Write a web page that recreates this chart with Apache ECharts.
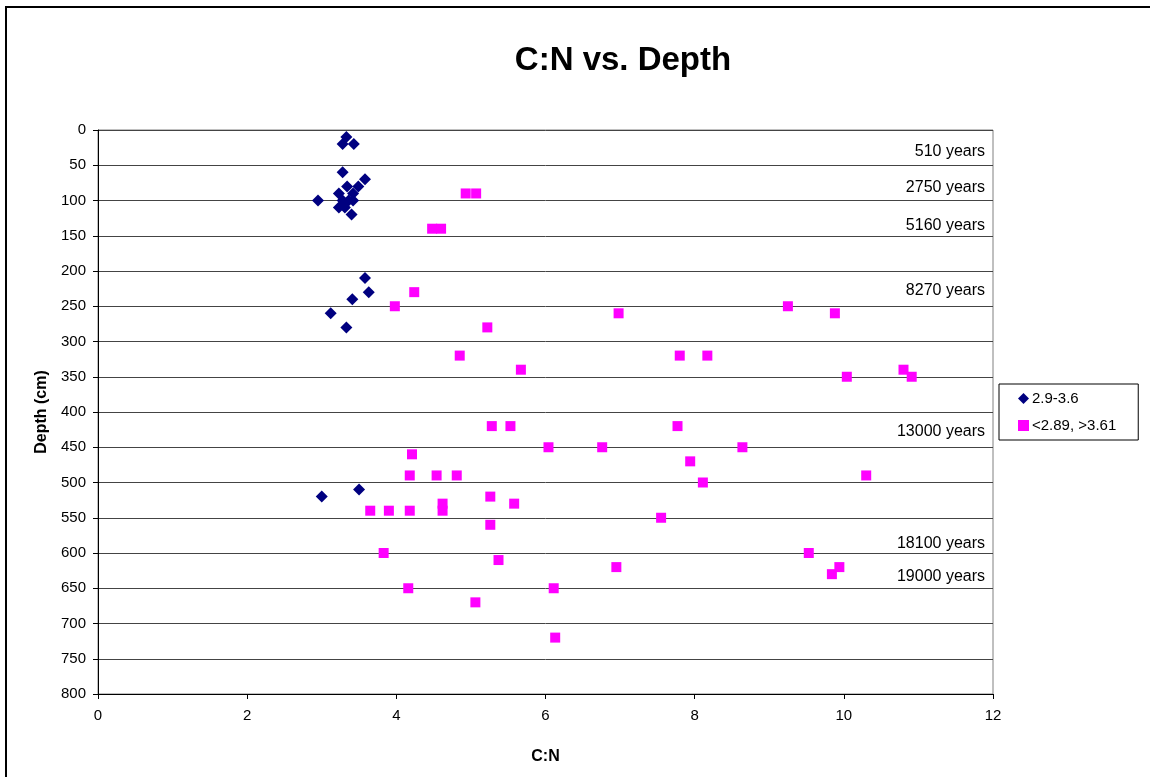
<!DOCTYPE html>
<html>
<head>
<meta charset="utf-8">
<title>C:N vs. Depth</title>
<script src="https://cdn.jsdelivr.net/npm/echarts@6/dist/echarts.min.js"></script>
<style>
  html, body { margin: 0; padding: 0; background: #fff; }
  #chart { width: 1150px; height: 777px; }
</style>
</head>
<body>
<div id="chart"></div>
<script>
// C:N ratio (x) and depth in cm (y)
const lowName = "2.9-3.6";
const lowCN = [3.33, 3.28, 3.43, 3.28, 3.58, 3.34, 3.49, 3.23, 3.42, 2.95, 3.28, 3.36, 3.42, 3.23, 3.31, 3.40, 3.58, 3.63, 3.41, 3.12, 3.33, 3.50, 3.00];
const lowDepth = [10, 20, 20, 60, 70, 80, 80, 90, 90, 100, 100, 100, 100, 110, 110, 120, 210, 230, 240, 260, 280, 510, 520];

const highName = "<2.89, >3.61";
const highCN = [4.93, 5.07, 4.48, 4.60, 4.24, 3.98, 9.25, 6.98, 9.88, 5.22, 4.85, 7.80, 8.17, 5.67, 10.80, 10.04, 10.91,
  5.28, 5.53, 7.77, 6.04, 6.76, 8.64, 4.21, 7.94, 4.18, 4.54, 4.81, 10.30, 8.11, 5.26, 4.62, 5.58,
  3.65, 3.90, 4.18, 4.62, 7.55, 5.26, 3.83, 9.53, 5.37, 6.95, 9.94, 9.84, 4.16, 6.11, 5.06, 6.13];
const highDepth = [90, 90, 140, 140, 230, 250, 250, 260, 260, 280, 320, 320, 320, 340, 340, 350, 350,
  420, 420, 420, 450, 450, 450, 460, 470, 490, 490, 490, 490, 500, 520, 530, 530,
  540, 540, 540, 540, 550, 560, 600, 600, 610, 620, 620, 630, 650, 650, 670, 720];

// age notes written along the right edge
const ageLabels = ["510 years", "2750 years", "5160 years", "8270 years", "13000 years", "18100 years", "19000 years"];
const ageDepth = [31, 81, 136, 228, 428, 587, 634];

const xTicks = [0, 2, 4, 6, 8, 10, 12];
const yTicks = [0, 50, 100, 150, 200, 250, 300, 350, 400, 450, 500, 550, 600, 650, 700, 750, 800];

const font = "Arial, 'Liberation Sans', sans-serif";

const pairs = (xs, ys) => xs.map((v, i) => [v, ys[i]]);

const chart = echarts.init(document.getElementById("chart"), null, { renderer: "canvas" });

const option = {
  animation: false,
  backgroundColor: "#fff",
  textStyle: { fontFamily: font, color: "#000" },
  title: {
    text: "C:N vs. Depth",
    left: 618,
    top: 39,
    textAlign: "center",
    textStyle: { fontFamily: font, fontSize: 33, fontWeight: "bold", color: "#000" }
  },
  legend: {
    data: [lowName, highName],
    orient: "vertical",
    left: 999,
    top: 384,
    padding: [7, 22, 7, 19],
    itemGap: 12,
    itemWidth: 11,
    itemHeight: 11,
    borderColor: "#000",
    borderWidth: 1,
    textStyle: { fontFamily: font, fontSize: 15, color: "#000", padding: [0, 0, 0, -2] }
  },
  grid: {
    left: 98,
    right: 157,
    top: 130,
    bottom: 83,
    show: true,
    borderColor: "#808080",
    borderWidth: 1
  },
  xAxis: {
    type: "value",
    min: xTicks[0],
    max: xTicks[xTicks.length - 1],
    interval: 2,
    name: "C:N",
    nameLocation: "middle",
    nameGap: 55,
    nameTextStyle: { fontFamily: font, fontSize: 16, fontWeight: "bold", color: "#000" },
    axisLine: { show: true, onZero: false, lineStyle: { color: "#000", width: 1 } },
    axisTick: { show: true, inside: false, length: 5, lineStyle: { color: "#000" } },
    axisLabel: { fontFamily: font, fontSize: 15, color: "#000", margin: 14 },
    splitLine: { show: false }
  },
  yAxis: {
    type: "value",
    inverse: true,
    min: yTicks[0],
    max: yTicks[yTicks.length - 1],
    interval: 50,
    name: "Depth (cm)",
    nameLocation: "middle",
    nameGap: 48,
    nameTextStyle: { fontFamily: font, fontSize: 16, fontWeight: "bold", color: "#000" },
    axisLine: { show: true, onZero: false, lineStyle: { color: "#000", width: 1 } },
    axisTick: { show: true, inside: false, length: 5, lineStyle: { color: "#000" } },
    axisLabel: { fontFamily: font, fontSize: 15, color: "#000", margin: 12 },
    splitLine: { show: true, lineStyle: { color: "#444", width: 1 } }
  },
  series: [
    {
      name: lowName,
      type: "scatter",
      symbol: "diamond",
      symbolSize: 12,
      itemStyle: { color: "#000080", opacity: 1 },
      data: pairs(lowCN, lowDepth),
      z: 3
    },
    {
      name: highName,
      type: "scatter",
      symbol: "rect",
      symbolSize: 10,
      itemStyle: { color: "#FF00FF", opacity: 1 },
      data: pairs(highCN, highDepth),
      z: 3
    },
    {
      name: "ages",
      type: "scatter",
      symbolSize: 0,
      silent: true,
      itemStyle: { opacity: 1 },
      data: ageLabels.map((t, i) => ({ name: t, value: [xTicks[xTicks.length - 1], ageDepth[i]] })),
      label: {
        show: true,
        position: "left",
        distance: 8,
        formatter: p => p.name,
        fontFamily: font,
        fontSize: 16,
        color: "#000"
      },
      z: 4
    }
  ],
  graphic: [
    {
      type: "rect",
      silent: true,
      shape: { x: 6, y: 7, width: 1300, height: 900 },
      style: { fill: "none", stroke: "#000", lineWidth: 2 }
    }
  ]
};

option && chart.setOption(option);
</script>
</body>
</html>
